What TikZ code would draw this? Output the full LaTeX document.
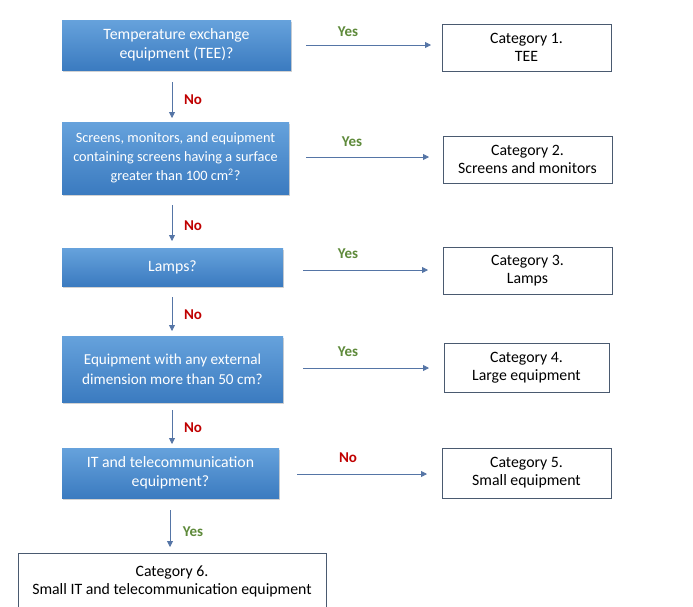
\documentclass[tikz,border=0pt]{standalone}
\usepackage{fontspec}
\setmainfont{Carlito}
\usetikzlibrary{arrows.meta,shadows}
\definecolor{btop}{HTML}{66A2DC}
\definecolor{bbot}{HTML}{3B7BC0}
\definecolor{arr}{HTML}{5575A6}
\definecolor{cborder}{HTML}{4A5A70}
\definecolor{yesc}{HTML}{5E8A3A}
\definecolor{noc}{HTML}{C00000}
\tikzset{
  qbox/.style={rectangle, top color=btop, bottom color=bbot, draw=none,
    text=white, align=center, font=\fontsize{15.8}{19.5}\selectfont,
    drop shadow={shadow xshift=1pt, shadow yshift=-2pt, opacity=0.35}},
  cbox/.style={rectangle, draw=cborder, line width=0.8pt, fill=white, align=center,
    font=\fontsize{15.8}{18}\selectfont, text=black},
  conn/.style={draw=arr, line width=0.8pt, -{Triangle[length=6pt,width=6pt]}},
  yeslab/.style={text=yesc, font=\bfseries\fontsize{15}{17}\selectfont},
  nolab/.style={text=noc, font=\bfseries\fontsize{15}{17}\selectfont},
}
\begin{document}
\begin{tikzpicture}[x=1pt,y=-1pt]
\useasboundingbox[fill=white] (0,0) rectangle (693,606);
% question boxes
\node[qbox, minimum width=229pt, minimum height=50pt] (q1) at (176.5,45) {Temperature exchange\\equipment (TEE)?};
\node[qbox, minimum width=227pt, minimum height=72pt, font=\fontsize{14.3}{19}\selectfont] (q2) at (175.5,158) {Screens, monitors, and equipment\\containing screens having a surface\\greater than 100 cm\textsuperscript{2}?};
\node[qbox, minimum width=221pt, minimum height=38pt] (q3) at (172.5,267) {Lamps?};
\node[qbox, minimum width=221pt, minimum height=66pt, font=\fontsize{15.2}{20}\selectfont] (q4) at (172.5,369) {Equipment with any external\\dimension more than 50 cm?};
\node[qbox, minimum width=217pt, minimum height=50pt] (q5) at (170.5,473) {IT and telecommunication\\equipment?};
% category boxes
\node[cbox, minimum width=169pt, minimum height=47pt] (c1) at (526.5,47.5) {Category 1.\\TEE};
\node[cbox, minimum width=169pt, minimum height=47pt] (c2) at (527.5,159.5) {Category 2.\\Screens and monitors};
\node[cbox, minimum width=169pt, minimum height=47pt] (c3) at (527.5,270.5) {Category 3.\\Lamps};
\node[cbox, minimum width=165pt, minimum height=49pt] (c4) at (526.5,367.5) {Category 4.\\Large equipment};
\node[cbox, minimum width=169pt, minimum height=50pt] (c5) at (526.5,473) {Category 5.\\Small equipment};
\node[cbox, minimum width=308pt, inner ysep=12pt, anchor=north] (c6) at (172,553) {Category 6.\\Small IT and telecommunication equipment};
% coordinates for connector ends
\coordinate (h1s) at (306,45); \coordinate (h1e) at (431,45);
\coordinate (h2s) at (306,157); \coordinate (h2e) at (429,157);
\coordinate (h3s) at (303,270); \coordinate (h3e) at (428,270);
\coordinate (h4s) at (303,368); \coordinate (h4e) at (429,368);
\coordinate (h5s) at (297,474); \coordinate (h5e) at (427,474);
\coordinate (v1s) at (172,82); \coordinate (v1e) at (172,118);
\coordinate (v2s) at (172,205); \coordinate (v2e) at (172,241);
\coordinate (v3s) at (172,297); \coordinate (v3e) at (172,331);
\coordinate (v4s) at (172,410); \coordinate (v4e) at (172,444);
\coordinate (v5s) at (170,510); \coordinate (v5e) at (170,547);
\draw[conn] (h1s) -- (h1e);
\draw[conn] (h2s) -- (h2e);
\draw[conn] (h3s) -- (h3e);
\draw[conn] (h4s) -- (h4e);
\draw[conn] (h5s) -- (h5e);
\draw[conn] (v1s) -- (v1e);
\draw[conn] (v2s) -- (v2e);
\draw[conn] (v3s) -- (v3e);
\draw[conn] (v4s) -- (v4e);
\draw[conn] (v5s) -- (v5e);
% labels
\node[yeslab] (ly1) at (348,32) {Yes};
\node[yeslab] (ly2) at (352,142) {Yes};
\node[yeslab] (ly3) at (348,254) {Yes};
\node[yeslab] (ly4) at (348,352) {Yes};
\node[nolab] (ln5) at (348,458) {No};
\node[nolab] (ln1) at (193,100) {No};
\node[nolab] (ln2) at (193,226) {No};
\node[nolab] (ln3) at (193,315) {No};
\node[nolab] (ln4) at (193,428) {No};
\node[yeslab] (ly6) at (193,532) {Yes};
\end{tikzpicture}
\end{document}
